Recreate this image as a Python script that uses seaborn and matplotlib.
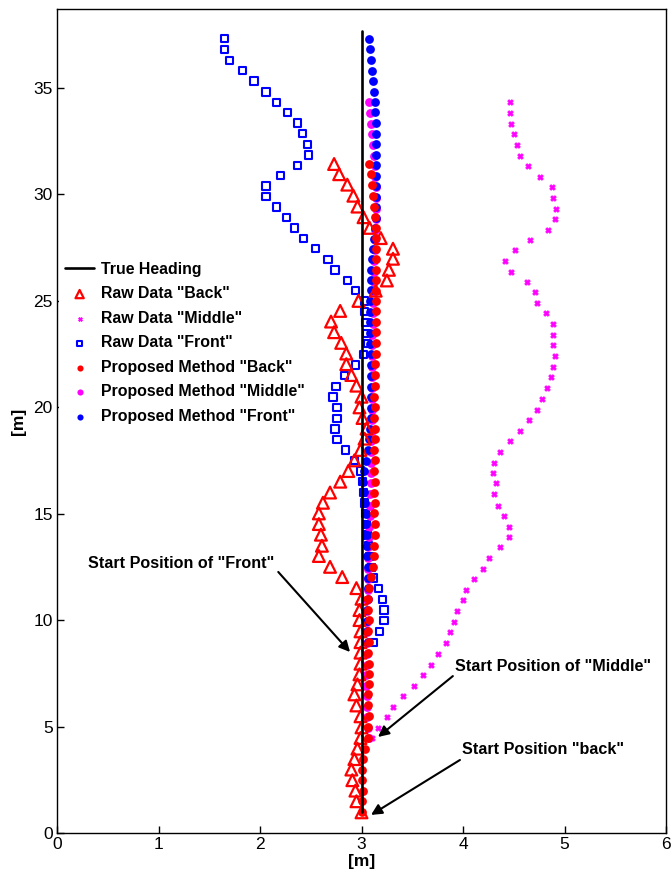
import matplotlib
matplotlib.use("Agg")
import matplotlib.pyplot as plt
import seaborn as sns

# true heading line
heading_x = [3.0, 3.0]
heading_y = [1.0, 37.65]

# "Back" sensor
back_y = [0.97, 1.49, 1.99, 2.48, 2.98, 3.47, 3.96, 4.46, 4.96, 5.48,
          5.99, 6.51, 6.98, 7.45, 7.95, 8.47, 8.96, 9.47, 10.0, 10.47,
          11.0, 11.5, 12.02, 12.5, 13.01, 13.49, 14.01, 14.51, 15.01, 15.51,
          15.99, 16.5, 17.0, 17.5, 17.99, 18.52, 18.99, 19.49, 19.99, 20.49,
          21.01, 21.51, 22.02, 22.52, 23.02, 23.52, 24.02, 24.52, 24.99, 25.47,
          25.95, 26.45, 26.97, 27.44, 27.94, 28.42, 28.92, 29.42, 29.93, 30.45,
          30.94, 31.42]
back_raw_x = [3.00, 2.95, 2.94, 2.91, 2.90, 2.93, 2.96, 2.99, 3.00, 2.99,
              2.95, 2.93, 2.96, 2.98, 2.99, 2.99, 2.99, 2.99, 2.98, 2.98,
              3.00, 2.95, 2.81, 2.69, 2.58, 2.61, 2.60, 2.58, 2.58, 2.62,
              2.69, 2.79, 2.87, 2.93, 2.99, 3.03, 3.05, 3.01, 2.98, 3.00,
              2.95, 2.90, 2.85, 2.85, 2.80, 2.73, 2.70, 2.79, 2.97, 3.14,
              3.25, 3.27, 3.31, 3.31, 3.19, 3.08, 3.02, 2.96, 2.92, 2.86,
              2.78, 2.73]
back_prop_x = [3.00, 3.00, 3.01, 3.00, 3.00, 3.01, 3.03, 3.06, 3.06, 3.07,
               3.06, 3.06, 3.07, 3.07, 3.07, 3.06, 3.07, 3.06, 3.07, 3.06,
               3.06, 3.07, 3.09, 3.11, 3.12, 3.12, 3.13, 3.13, 3.12, 3.13,
               3.12, 3.13, 3.12, 3.13, 3.12, 3.13, 3.13, 3.12, 3.13, 3.12,
               3.13, 3.13, 3.13, 3.14, 3.14, 3.14, 3.14, 3.14, 3.14, 3.14,
               3.14, 3.14, 3.14, 3.14, 3.14, 3.14, 3.13, 3.12, 3.11, 3.10,
               3.09, 3.07]

# "Middle" sensor
middle_y = [4.46, 4.94, 5.44, 5.94, 6.44, 6.92, 7.42, 7.91, 8.42, 8.92,
            9.42, 9.92, 10.42, 10.92, 11.42, 11.91, 12.42, 12.92, 13.41, 13.91,
            14.38, 14.89, 15.38, 15.9, 16.42, 16.91, 17.4, 17.9, 18.39, 18.88,
            19.38, 19.89, 20.4, 20.9, 21.4, 21.9, 22.4, 22.9, 23.4, 23.9,
            24.4, 24.91, 25.4, 25.9, 26.37, 26.87, 27.38, 27.84, 28.31, 28.83,
            29.32, 29.82, 30.32, 30.82, 31.31, 31.81, 32.31, 32.81, 33.32, 33.82,
            34.32]
middle_raw_x = [3.10, 3.16, 3.25, 3.31, 3.41, 3.52, 3.61, 3.68, 3.75, 3.83,
                3.87, 3.91, 3.94, 4.00, 4.03, 4.11, 4.20, 4.26, 4.36, 4.45,
                4.45, 4.40, 4.34, 4.31, 4.33, 4.30, 4.31, 4.36, 4.46, 4.56,
                4.65, 4.73, 4.78, 4.83, 4.87, 4.89, 4.91, 4.89, 4.89, 4.89,
                4.82, 4.73, 4.71, 4.63, 4.47, 4.41, 4.51, 4.66, 4.84, 4.91,
                4.92, 4.89, 4.88, 4.76, 4.64, 4.56, 4.53, 4.50, 4.47, 4.46,
                4.46]
middle_prop_x = [3.07, 3.06, 3.05, 3.05, 3.05, 3.04, 3.04, 3.05, 3.05, 3.05,
                 3.05, 3.05, 3.05, 3.05, 3.06, 3.06, 3.06, 3.06, 3.06, 3.07,
                 3.07, 3.08, 3.08, 3.08, 3.09, 3.09, 3.09, 3.09, 3.09, 3.10,
                 3.10, 3.10, 3.10, 3.10, 3.10, 3.10, 3.10, 3.10, 3.10, 3.11,
                 3.11, 3.11, 3.11, 3.12, 3.12, 3.12, 3.13, 3.13, 3.13, 3.14,
                 3.14, 3.14, 3.14, 3.13, 3.13, 3.12, 3.11, 3.10, 3.09, 3.08,
                 3.07]

# "Front" sensor
front_y = [8.96, 9.47, 9.98, 10.48, 10.98, 11.49, 11.98, 12.48, 13.0, 13.5,
           14.0, 14.5, 15.0, 15.5, 16.0, 16.5, 17.0, 17.48, 17.98, 18.49,
           18.98, 19.48, 19.98, 20.48, 20.96, 21.48, 21.98, 22.48, 22.98, 23.47,
           23.98, 24.48, 24.99, 25.48, 25.95, 26.45, 26.95, 27.45, 27.92, 28.42,
           28.9, 29.4, 29.89, 30.39, 30.88, 31.36, 31.85, 32.35, 32.84, 33.35,
           33.84, 34.32, 34.81, 35.32, 35.8, 36.29, 36.8, 37.3]
front_raw_x = [3.12, 3.18, 3.22, 3.22, 3.21, 3.17, 3.12, 3.10, 3.08, 3.07,
               3.06, 3.05, 3.04, 3.03, 3.02, 3.01, 2.99, 2.93, 2.84, 2.76,
               2.74, 2.76, 2.76, 2.72, 2.75, 2.83, 2.94, 3.02, 3.06, 3.05,
               3.04, 3.03, 3.03, 2.94, 2.86, 2.74, 2.67, 2.55, 2.43, 2.34,
               2.26, 2.16, 2.06, 2.06, 2.20, 2.37, 2.48, 2.47, 2.42, 2.37,
               2.27, 2.16, 2.06, 1.94, 1.83, 1.70, 1.65, 1.65]
front_prop_x = [3.06, 3.05, 3.05, 3.05, 3.06, 3.06, 3.06, 3.06, 3.05, 3.05,
                3.05, 3.04, 3.04, 3.03, 3.02, 3.01, 3.02, 3.04, 3.06, 3.07,
                3.08, 3.09, 3.09, 3.09, 3.09, 3.09, 3.09, 3.09, 3.08, 3.08,
                3.08, 3.08, 3.08, 3.09, 3.09, 3.09, 3.10, 3.11, 3.12, 3.13,
                3.14, 3.14, 3.14, 3.14, 3.14, 3.14, 3.14, 3.14, 3.14, 3.14,
                3.13, 3.13, 3.12, 3.11, 3.10, 3.09, 3.08, 3.07]

x_ticks = [0, 1, 2, 3, 4, 5, 6]
y_ticks = [0, 5, 10, 15, 20, 25, 30, 35]

legend_order = ['True Heading', 'Raw Data "Back"', 'Raw Data "Middle"', 'Raw Data "Front"',
                'Proposed Method "Back"', 'Proposed Method "Middle"', 'Proposed Method "Front"']

sns.set_style("white")
plt.rcParams['font.family'] = ['Liberation Sans', 'DejaVu Sans']
plt.rcParams['text.color'] = 'black'
plt.rcParams['axes.labelcolor'] = 'black'

fig = plt.figure(figsize=(6.72, 8.75), dpi=100)
ax = fig.add_axes([57 / 672, 42 / 875, 609 / 672, 824 / 875])

# raw data
sns.scatterplot(x=front_raw_x, y=front_y, marker='s', s=28, color='blue', facecolor='none',
                edgecolor='blue', linewidth=1.5, ax=ax, label=legend_order[3], zorder=2)
sns.scatterplot(x=middle_raw_x, y=middle_y, marker='X', s=16, color='magenta',
                edgecolor='magenta', linewidth=0.6, ax=ax, label=legend_order[2], zorder=2)

# proposed method
sns.scatterplot(x=middle_prop_x, y=middle_y, marker='o', s=40, color='magenta',
                edgecolor='magenta', linewidth=0, ax=ax, label=legend_order[5], zorder=3)
sns.scatterplot(x=front_prop_x, y=front_y, marker='o', s=40, color='blue',
                edgecolor='blue', linewidth=0, ax=ax, label=legend_order[6], zorder=3)
sns.scatterplot(x=back_prop_x, y=back_y, marker='o', s=40, color='red',
                edgecolor='red', linewidth=0, ax=ax, label=legend_order[4], zorder=4)

sns.scatterplot(x=back_raw_x, y=back_y, marker='^', s=72, color='red', facecolor='none',
                edgecolor='red', linewidth=1.6, ax=ax, label=legend_order[1], zorder=5)

sns.lineplot(x=heading_x, y=heading_y, color='black', linewidth=1.9, estimator=None,
             sort=False, ax=ax, label=legend_order[0], zorder=6)

ax.set_xlim(0, 6)
ax.set_ylim(0, 38.7)
ax.set_xticks(x_ticks)
ax.set_yticks(y_ticks)
ax.tick_params(direction='in', length=5, width=1, labelsize=12.5, bottom=True, left=True,
               top=False, right=False, colors='black', pad=3)
for sp in ax.spines.values():
    sp.set_color('black')
    sp.set_linewidth(1.0)

ax.set_xlabel('[m]', fontsize=12.5, fontweight='bold', labelpad=1)
ax.set_ylabel('[m]', fontsize=12.5, fontweight='bold', labelpad=5)

# annotations
arrow = dict(arrowstyle='-|>', color='black', lw=1.5, mutation_scale=16, shrinkA=0, shrinkB=0)
ax.annotate('', xy=(2.887, 8.5), xytext=(2.18, 12.26), arrowprops=arrow)
ax.annotate('', xy=(3.163, 4.51), xytext=(3.90, 7.37), arrowprops=arrow)
ax.annotate('', xy=(3.094, 0.85), xytext=(3.97, 3.43), arrowprops=arrow)
ax.text(0.305, 12.68, 'Start Position of "Front"', fontsize=11.6, fontweight='bold',
        ha='left', va='center')
ax.text(3.92, 7.84, 'Start Position of "Middle"', fontsize=11.6, fontweight='bold',
        ha='left', va='center')
ax.text(3.99, 3.90, 'Start Position "back"', fontsize=11.6, fontweight='bold',
        ha='left', va='center')

handles, labels = ax.get_legend_handles_labels()
lookup = dict(zip(labels, handles))
ax.legend([lookup[l] for l in legend_order], legend_order, loc='upper left',
          bbox_to_anchor=(0.004, 0.7), frameon=True, facecolor='white', edgecolor='none',
          framealpha=1, prop={'weight': 'bold', 'size': 11.4}, handlelength=1.85,
          handletextpad=0.45, labelspacing=0.6, borderaxespad=0, borderpad=0.35,
          markerscale=0.7, scatterpoints=1)

fig.savefig('out.png', dpi=100)
